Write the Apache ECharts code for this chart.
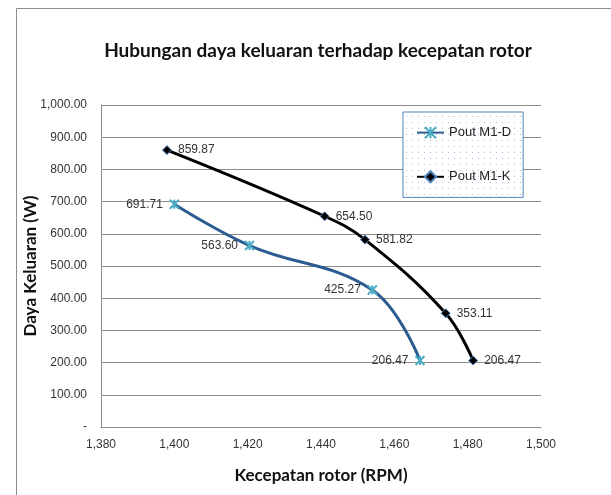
<!DOCTYPE html>
<html>
<head>
    <meta charset="utf-8">
    <title>Hubungan daya keluaran terhadap kecepatan rotor</title>
    <script src="https://cdn.jsdelivr.net/npm/echarts@6/dist/echarts.min.js"></script>
    <style>
        html, body { margin: 0; padding: 0; background: #fff; }
        #chart1 { width: 611px; height: 495px; }
    </style>
</head>
<body>
<div id="chart1"></div>
<script type="text/javascript">
    // data
    var rpmD = [1400, 1420.5, 1454, 1467];
    var poutD = [691.71, 563.60, 425.27, 206.47];
    var rpmK = [1398, 1441, 1452, 1474, 1481.5];
    var poutK = [859.87, 654.50, 581.82, 353.11, 206.47];
    var seriesNames = ['Pout M1-D', 'Pout M1-K'];

    function pairs(xs, ys) {
        var out = [];
        for (var i = 0; i < xs.length; i++) {
            out.push([xs[i], ys[i]]);
        }
        return out;
    }

    // dotted fill for the legend box
    var dots = document.createElement('canvas');
    dots.width = 6;
    dots.height = 6;
    var ctx = dots.getContext('2d');
    ctx.fillStyle = '#ffffff';
    ctx.fillRect(0, 0, 6, 6);
    ctx.fillStyle = '#a9bedf';
    ctx.fillRect(2, 2, 1, 1);

    var fontTxt = '"Liberation Sans", Arial, sans-serif';

    var myChart1 = echarts.init(document.getElementById('chart1'));
    myChart1.setOption({
        animation: false,
        title: {
            text: 'Hubungan daya keluaran terhadap kecepatan rotor',
            left: 313,
            textAlign: 'center',
            top: 36,
            textStyle: {fontFamily: 'Lato, sans-serif', fontWeight: 'bold', fontSize: 19, color: '#111'}
        },
        graphic: [{
            type: 'rect',
            left: 14,
            top: 6,
            z: -1,
            shape: {width: 700, height: 600},
            style: {fill: 'none', stroke: '#8c8c8c', lineWidth: 1}
        }],
        legend: {
            data: seriesNames,
            orient: 'vertical',
            left: 403,
            top: 112,
            itemWidth: 27,
            itemHeight: 14,
            itemGap: 31,
            padding: [14, 12, 14, 13],
            backgroundColor: {image: dots, repeat: 'repeat'},
            borderColor: '#4f81bd',
            borderWidth: 1,
            textStyle: {fontFamily: fontTxt, fontSize: 13, color: '#222'}
        },
        grid: {left: 101, right: 70, top: 105, bottom: 68, containLabel: false},
        xAxis: {
            type: 'value',
            min: 1380,
            max: 1500,
            interval: 20,
            name: 'Kecepatan rotor (RPM)',
            nameLocation: 'middle',
            nameMoveOverlap: false,
            nameGap: 40,
            nameTextStyle: {fontFamily: 'Lato, sans-serif', fontWeight: 'bold', fontSize: 17, color: '#111'},
            axisLine: {lineStyle: {color: '#8c8c8c'}},
            axisTick: {show: false},
            splitLine: {show: false},
            axisLabel: {
                margin: 12,
                fontFamily: fontTxt,
                fontSize: 12,
                color: '#333',
                formatter: function (v) { return v.toLocaleString('en-US'); }
            }
        },
        yAxis: {
            type: 'value',
            min: 0,
            max: 1000,
            interval: 100,
            name: 'Daya Keluaran (W)',
            nameLocation: 'middle',
            nameMoveOverlap: false,
            nameGap: 62,
            nameTextStyle: {fontFamily: 'Lato, sans-serif', fontWeight: 'bold', fontSize: 17, color: '#111'},
            axisLine: {show: true, lineStyle: {color: '#8c8c8c'}},
            axisTick: {show: false},
            splitLine: {lineStyle: {color: '#8c8c8c'}},
            axisLabel: {
                margin: 14,
                fontFamily: fontTxt,
                fontSize: 12,
                color: '#333',
                formatter: function (v) {
                    if (v === 0) return '-';
                    return v.toLocaleString('en-US', {minimumFractionDigits: 2, maximumFractionDigits: 2});
                }
            }
        },
        series: [{
            name: seriesNames[0],
            type: 'line',
            smooth: 0.4,
            data: pairs(rpmD, poutD),
            symbol: 'path://M0,0L10,10M10,0L0,10M5,0L5,10',
            symbolSize: 9,
            lineStyle: {color: '#2b5c91', width: 3},
            itemStyle: {color: 'rgba(0,0,0,0)', borderColor: '#4bacc6', borderWidth: 2},
            label: {
                show: true,
                position: 'left',
                distance: 6,
                fontFamily: fontTxt,
                fontSize: 12,
                color: '#333',
                formatter: function (p) { return p.value[1].toFixed(2); }
            }
        }, {
            name: seriesNames[1],
            type: 'line',
            smooth: 0.4,
            data: pairs(rpmK, poutK),
            symbol: 'diamond',
            symbolSize: 9,
            lineStyle: {color: '#000', width: 3},
            itemStyle: {color: '#000', borderColor: '#4f81bd', borderWidth: 1},
            label: {
                show: true,
                position: 'right',
                distance: 6,
                fontFamily: fontTxt,
                fontSize: 12,
                color: '#333',
                formatter: function (p) { return p.value[1].toFixed(2); }
            }
        }]
    });
</script>
</body>
</html>
